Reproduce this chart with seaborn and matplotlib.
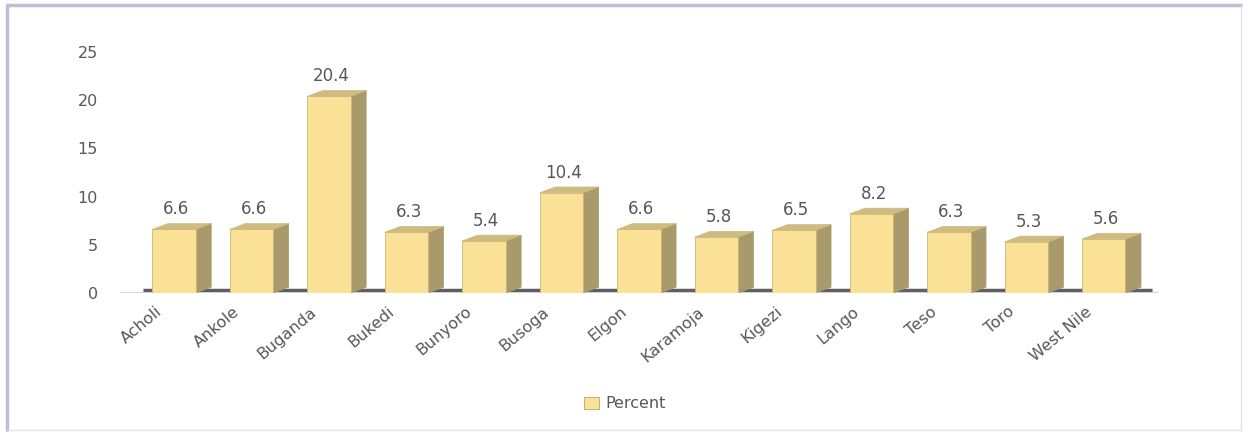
import matplotlib
matplotlib.use("Agg")
import matplotlib.pyplot as plt
import matplotlib.transforms as mtransforms
from matplotlib.patches import Polygon
from matplotlib.lines import Line2D
import seaborn as sns
import pandas as pd

regions = ["Acholi", "Ankole", "Buganda", "Bukedi", "Bunyoro", "Busoga", "Elgon",
           "Karamoja", "Kigezi", "Lango", "Teso", "Toro", "West Nile"]
percent = [6.6, 6.6, 20.4, 6.3, 5.4, 10.4, 6.6, 5.8, 6.5, 8.2, 6.3, 5.3, 5.6]
y_ticks = [0, 5, 10, 15, 20, 25]

df = pd.DataFrame({"Region": regions, "Percent": percent})

sns.set_theme(style="white")
plt.rcParams["font.family"] = ["DejaVu Sans"]

FRONT = "#fbe196"
SIDE = "#a89a6b"
TOP = "#cdbb80"
EDGE = "#c9b679"
TEXT = "#585858"

fig = plt.figure(figsize=(12.43, 4.32), dpi=100)
fig.patch.set_facecolor("white")
ax = fig.add_axes([120 / 1243, 139 / 432, 1045 / 1243, 241 / 432])

sns.barplot(data=df, x="Region", y="Percent", color=FRONT, width=0.56,
            saturation=1, ax=ax, label="Percent", zorder=3)

# depth of the 3-D extrusion in data units
dx, dy = 0.2, 0.6

# floor behind the bars
ax.plot([-0.4, len(regions) - 1 + 0.62], [0.3, 0.3], color="#5f5f5f",
        lw=2.5, zorder=1, solid_capstyle="butt")
ax.plot([-0.7, len(regions) - 1 + 0.7], [0, 0], color="#c9cde0",
        lw=1.2, zorder=1)

for bar, val in zip(ax.patches, percent):
    x0 = bar.get_x()
    w = bar.get_width()
    h = bar.get_height()
    bar.set_edgecolor(EDGE)
    bar.set_linewidth(0.6)
    side = Polygon([[x0 + w, 0], [x0 + w + dx, dy], [x0 + w + dx, h + dy], [x0 + w, h]],
                   closed=True, facecolor=SIDE, edgecolor=SIDE, lw=0.5, zorder=2.9)
    top = Polygon([[x0, h], [x0 + dx, h + dy], [x0 + w + dx, h + dy], [x0 + w, h]],
                  closed=True, facecolor=TOP, edgecolor=TOP, lw=0.5, zorder=2.9)
    ax.add_patch(side)
    ax.add_patch(top)
    ax.text(x0 + w / 2 + 0.03, h + dy + 0.55, f"{val:.1f}", ha="center", va="bottom",
            fontsize=12, color=TEXT, clip_on=False, zorder=5)

ax.set_xlim(-0.697, 12.79)
ax.set_ylim(0, 25)
ax.set_yticks(y_ticks)
ax.set_yticklabels([str(t) for t in y_ticks])
ax.set_xlabel("")
ax.set_ylabel("")
for s in ax.spines.values():
    s.set_visible(False)
ax.tick_params(axis="y", length=0, pad=16, labelsize=11.5, labelcolor=TEXT)
ax.tick_params(axis="x", length=0, pad=12, labelsize=11.5, labelcolor=TEXT)

offset = mtransforms.ScaledTranslation(-14 / 100, 0, fig.dpi_scale_trans)
for lbl in ax.get_xticklabels():
    lbl.set_rotation(40)
    lbl.set_ha("right")
    lbl.set_va("center")
    lbl.set_rotation_mode("anchor")
    lbl.set_transform(lbl.get_transform() + offset)

leg = ax.legend(loc="center", bbox_to_anchor=(625 / 1243, 1 - 404 / 432),
                bbox_transform=fig.transFigure, frameon=False, fontsize=11.5,
                handlelength=0.9, handleheight=0.7, handletextpad=0.4)
for t in leg.get_texts():
    t.set_color(TEXT)
for hnd in leg.legend_handles:
    hnd.set_edgecolor("#b5a46c")

# chart frame
fig.add_artist(Line2D([7 / 1243, 1241 / 1243], [1 - 5 / 432, 1 - 5 / 432],
                      transform=fig.transFigure, color="#c4badb", lw=2.5))
fig.add_artist(Line2D([7 / 1243, 7 / 1243], [1 - 5 / 432, 1 - 430 / 432],
                      transform=fig.transFigure, color="#c4badb", lw=2.5))
fig.add_artist(Line2D([1241 / 1243, 1241 / 1243], [1 - 5 / 432, 1 - 430 / 432],
                      transform=fig.transFigure, color="#e2e2ea", lw=1))
fig.add_artist(Line2D([7 / 1243, 1241 / 1243], [1 - 430 / 432, 1 - 430 / 432],
                      transform=fig.transFigure, color="#e2e2ea", lw=1))

fig.savefig("out.png", dpi=100, facecolor="white")
